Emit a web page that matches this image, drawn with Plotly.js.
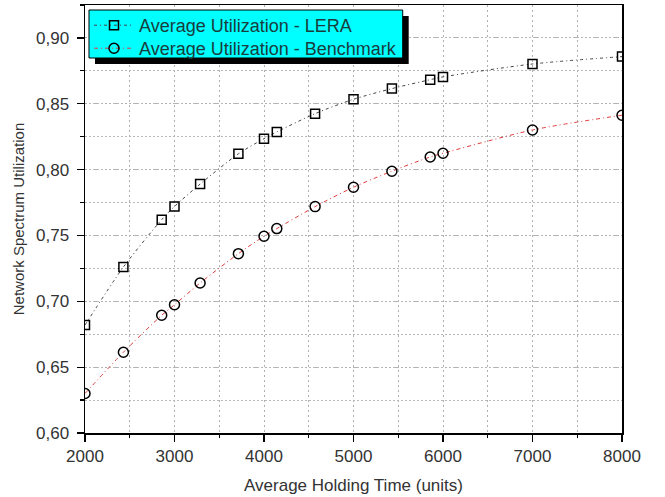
<!DOCTYPE html>
<html>
<head>
<meta charset="utf-8">
<script src="https://cdn.plot.ly/plotly-3.0.1.min.js"></script>
<style>html,body{margin:0;padding:0;background:#fff;}#chart{width:665px;height:497px;}</style>
</head>
<body>
<div id="chart"></div>
<script>
var holdingTime = [2000, 2429, 2857, 3000, 3286, 3714, 4000, 4143, 4571, 5000, 5429, 5857, 6000, 7000, 8000];
var utilLERA = [0.682, 0.726, 0.762, 0.772, 0.789, 0.812, 0.8235, 0.8286, 0.8425, 0.8534, 0.8615, 0.8683, 0.8704, 0.8802, 0.8858];
var utilBenchmark = [0.630, 0.6613, 0.6894, 0.6974, 0.7139, 0.7362, 0.7494, 0.7552, 0.7719, 0.7866, 0.7988, 0.8096, 0.8124, 0.8301, 0.8413];
var seriesNames = ['Average Utilization - LERA', 'Average Utilization - Benchmark'];
var yTickVals = [0.60, 0.65, 0.70, 0.75, 0.80, 0.85, 0.90];
var xTickVals = [2000, 3000, 4000, 5000, 6000, 7000, 8000];

var traces = [
  {
    x: holdingTime, y: utilLERA, name: seriesNames[0], type: 'scatter', mode: 'lines+markers', legend: 'legend',
    line: {color: '#444444', width: 1, dash: '3px,3px,1px,3px', shape: 'spline', smoothing: 0.8},
    marker: {symbol: 'square-open', size: 9, color: '#000000', line: {width: 1.5, color: '#000000'}}
  },
  {
    x: holdingTime, y: utilBenchmark, name: seriesNames[1], type: 'scatter', mode: 'lines+markers', legend: 'legend2',
    line: {color: '#e03c3c', width: 1, dash: '4px,3px,1px,3px', shape: 'spline', smoothing: 0.8},
    marker: {symbol: 'circle-open', size: 10, color: '#000000', line: {width: 1.5, color: '#000000'}}
  }
];

var L = 85, R = 622.5, T = 5, B = 433;
function px(x){ return (x - L) / (R - L); }
function py(y){ return (B - y) / (B - T); }

function legendAt(topPx){
  return {
    x: px(89), y: py(topPx), xanchor: 'left', yanchor: 'top',
    bgcolor: 'rgba(0,0,0,0)', borderwidth: 0,
    font: {family: 'Liberation Sans, Arial, sans-serif', size: 18, color: '#1a3c3c'},
    itemwidth: 40, itemclick: false
  };
}

var layout = {
  width: 665, height: 497,
  margin: {l: L, r: 665 - R, t: T, b: 497 - B, pad: 0},
  paper_bgcolor: '#ffffff', plot_bgcolor: '#ffffff',
  separators: ',.',
  font: {family: 'Liberation Sans, Arial, sans-serif', color: '#333333', size: 17},
  showlegend: true,
  legend: legendAt(7),
  legend2: legendAt(30),
  xaxis: {
    range: [2000, 8000], tickvals: xTickVals, tickformat: 'd',
    showline: true, linecolor: '#000000', linewidth: 1.5, mirror: true,
    ticks: 'outside', ticklen: 7, tickwidth: 1.2, tickcolor: '#000000',
    showgrid: false, zeroline: false,
    tickfont: {size: 17, color: '#333333'},
    minor: {dtick: 500, tick0: 2000, ticks: 'outside', ticklen: 3, tickcolor: '#000000', showgrid: true, gridcolor: '#b0b0b0', griddash: '2px,3px', gridwidth: 1},
    title: {text: 'Average Holding Time (units)', font: {family: 'Liberation Sans Narrow, Liberation Sans, Arial, sans-serif', size: 17, color: '#333333'}, standoff: 14}
  },
  yaxis: {
    range: [0.60, 0.925], tickvals: yTickVals, tickformat: '.2f',
    showline: true, linecolor: '#000000', linewidth: 1.5, mirror: true,
    ticks: 'outside', ticklen: 7, tickwidth: 1.2, tickcolor: '#000000',
    showgrid: true, gridcolor: '#b0b0b0', griddash: '2px,8px', gridwidth: 1, zeroline: false,
    tickfont: {size: 17, color: '#333333'}, ticklabelstandoff: 4,
    minor: {dtick: 0.025, tick0: 0.6, ticks: 'outside', ticklen: 4, tickcolor: '#000000', showgrid: true, gridcolor: '#b8b8b8', griddash: '2px,2px', gridwidth: 1},
    title: {text: 'Network Spectrum Utilization', font: {family: 'Liberation Sans, Arial, sans-serif', size: 15, color: '#333333'}, standoff: 8}
  },
  shapes: [
    {type: 'rect', xref: 'paper', yref: 'paper', x0: px(95), x1: px(409), y0: py(16), y1: py(64),
     fillcolor: '#000000', line: {width: 0}, layer: 'above'},
    {type: 'rect', xref: 'paper', yref: 'paper', x0: px(89), x1: px(403), y0: py(10), y1: py(58),
     fillcolor: '#00ffff', line: {width: 1, color: '#000000'}, layer: 'above'}
  ]
};

Plotly.newPlot('chart', traces, layout, {displayModeBar: false, staticPlot: true});
</script>
</body>
</html>
